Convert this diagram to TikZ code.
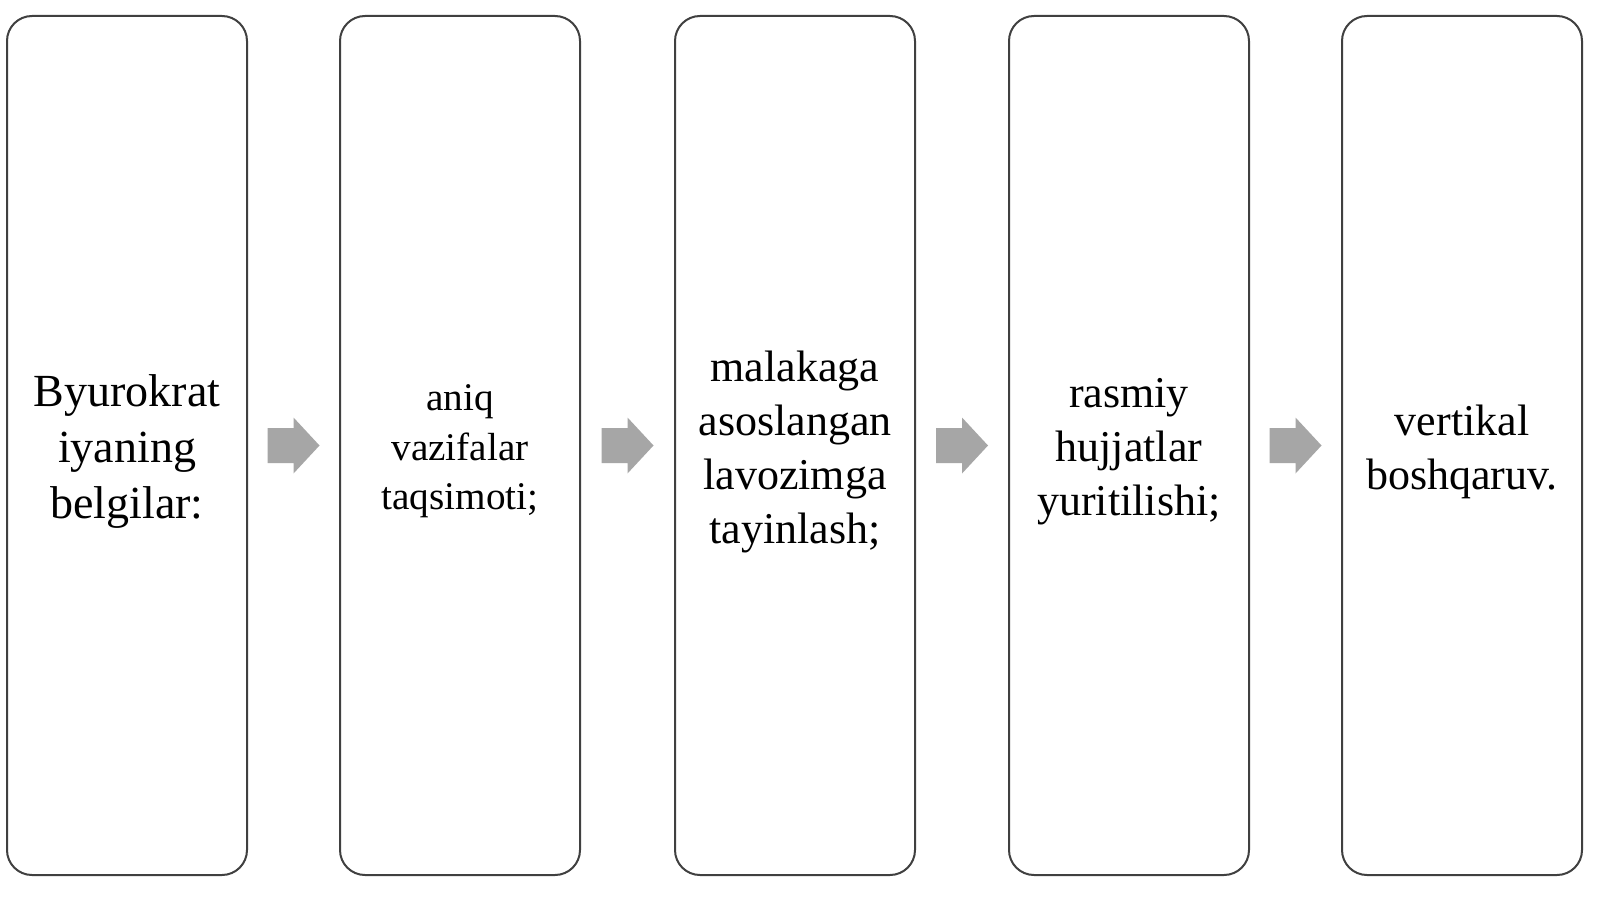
\documentclass[tikz,border=0pt]{standalone}
\usepackage{fontspec}
\setmainfont{Liberation Serif}
\usetikzlibrary{calc}
\tikzset{
  box/.style={draw=black!75, line width=1pt, rounded corners=12.5pt, minimum width=120pt, minimum height=429.5pt, inner sep=0pt},
  boxtext/.style={align=center, text=black, inner sep=0pt},
  bigtxt/.style={font=\fontsize{23}{28}\selectfont},
  midtxt/.style={font=\fontsize{22}{27}\selectfont},
  smalltxt/.style={font=\fontsize{19.6}{24.75}\selectfont},
  blockarrow/.style={fill=black!35, draw=none}
}
\begin{document}
\begin{tikzpicture}[x=0.5pt,y=-0.5pt]
\useasboundingbox[fill=white] (0,0) rectangle (1600,899);
\node[box] (b1) at (127,445.5) {};
\node[box] (b2) at (460,445.5) {};
\node[box] (b3) at (795,445.5) {};
\node[box] (b4) at (1129,445.5) {};
\node[box] (b5) at (1462,445.5) {};
\node[boxtext,bigtxt] (t1) at ($(b1.center)+(0,6)$) {Byurokrat\\iyaning\\belgilar:};
\node[boxtext,smalltxt] (t2) at ($(b2.center)+(0,6)$) {aniq\\vazifalar\\taqsimoti;};
\node[boxtext,midtxt] (t3) at ($(b3.center)+(0,6)$) {malakaga\\asoslangan\\lavozimga\\tayinlash;};
\node[boxtext,midtxt] (t4) at ($(b4.center)+(0,6)$) {rasmiy\\hujjatlar\\yuritilishi;};
\node[boxtext,midtxt] (t5) at ($(b5.center)+(0,6)$) {vertikal\\boshqaruv.};
\foreach \a/\b [count=\i] in {b1/b2,b2/b3,b3/b4,b4/b5}{
  \coordinate (m\i) at ($(\a.east)!0.5!(\b.west)$);
  \fill[blockarrow] ($(m\i)+(-26,-17.5)$) -- ($(m\i)+(0,-17.5)$) -- ($(m\i)+(0,-28)$)
    -- ($(m\i)+(26,0)$) -- ($(m\i)+(0,28)$) -- ($(m\i)+(0,17.5)$) -- ($(m\i)+(-26,17.5)$) -- cycle;
}
\end{tikzpicture}
\end{document}
